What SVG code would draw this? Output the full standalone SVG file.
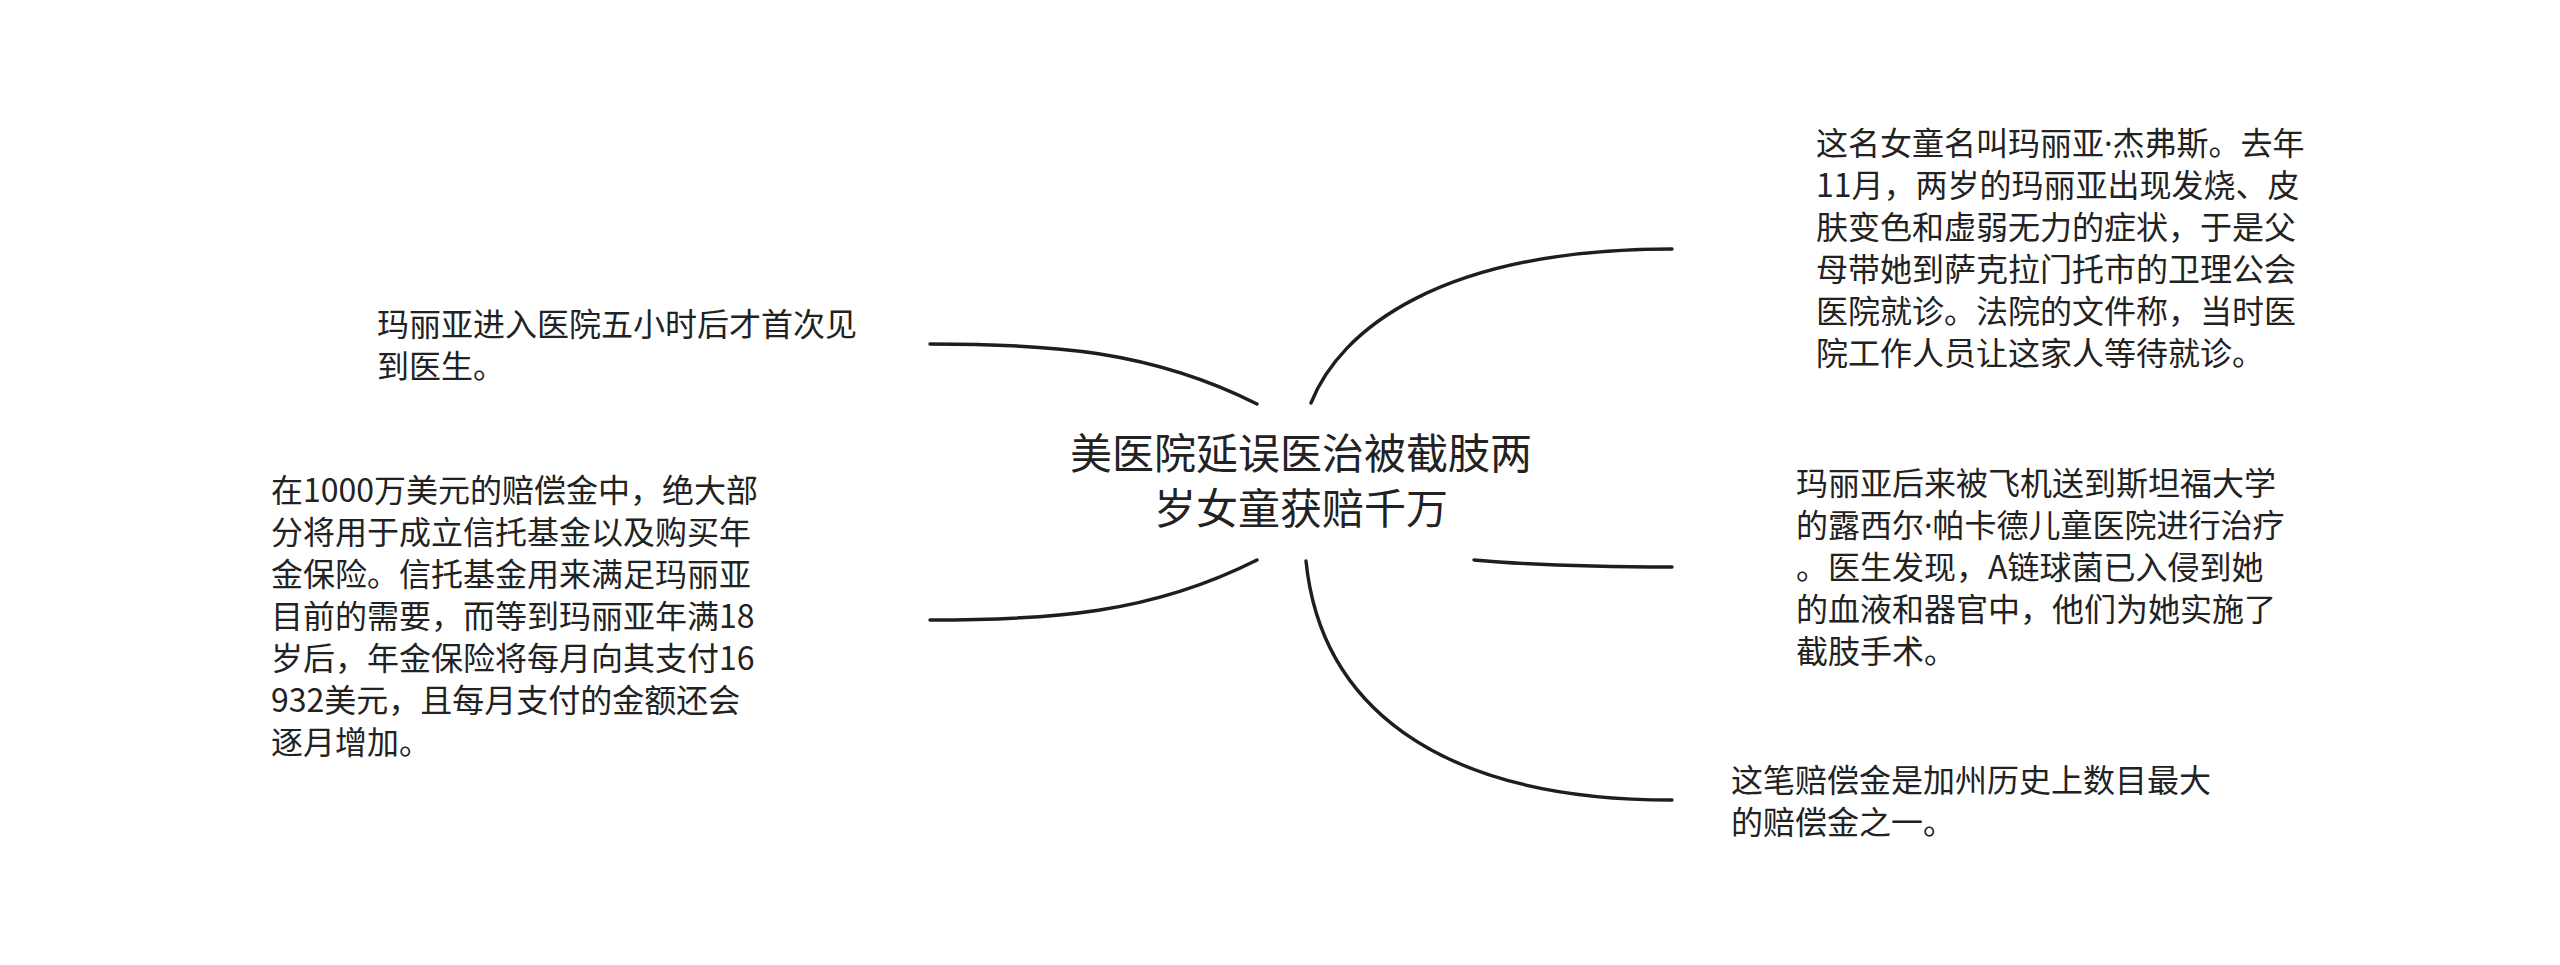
<svg xmlns="http://www.w3.org/2000/svg" width="2560" height="965" viewBox="0 0 2560 965">
<style>
.bg{fill:#ffffff}
.edge{fill:none;stroke:#1e1e1e;stroke-width:3.4;stroke-linecap:round}
.t{font-family:"Noto Sans CJK SC","Noto Sans",sans-serif;fill:#222222}
.root{font-size:42px;text-anchor:middle}
.leaf{font-size:32px}
.dot{font-family:"Noto Sans","Liberation Sans",sans-serif}
</style>
<rect class="bg" x="0" y="0" width="2560" height="965"/>
<g id="connectors">
<path class="edge" d="M 1257 404 C 1150 350, 1050 344, 930 344"/>
<path class="edge" d="M 1257 560 C 1150 614, 1050 620, 930 620"/>
<path class="edge" d="M 1311 403 C 1340 330, 1440 249, 1672 249"/>
<path class="edge" d="M 1306 561 C 1320 700, 1430 800, 1672 800"/>
<path class="edge" d="M 1474 560 C 1540 566, 1600 567, 1672 567"/>
</g>
<g id="root">
<text class="t root"><tspan x="1301" y="469">美医院延误医治被截肢两</tspan><tspan x="1301" y="524">岁女童获赔千万</tspan></text>
</g>
<g id="node-top-right">
<text class="t leaf"><tspan x="1816" y="155">这名女童名叫玛丽亚<tspan class="dot">·</tspan>杰弗斯。去年</tspan><tspan x="1816" y="197">11月，两岁的玛丽亚出现发烧、皮</tspan><tspan x="1816" y="239">肤变色和虚弱无力的症状，于是父</tspan><tspan x="1816" y="281">母带她到萨克拉门托市的卫理公会</tspan><tspan x="1816" y="323">医院就诊。法院的文件称，当时医</tspan><tspan x="1816" y="365">院工作人员让这家人等待就诊。</tspan></text>
</g>
<g id="node-right-middle">
<text class="t leaf"><tspan x="1796" y="495">玛丽亚后来被飞机送到斯坦福大学</tspan><tspan x="1796" y="537">的露西尔<tspan class="dot">·</tspan>帕卡德儿童医院进行治疗</tspan><tspan x="1796" y="579">。医生发现，A链球菌已入侵到她</tspan><tspan x="1796" y="621">的血液和器官中，他们为她实施了</tspan><tspan x="1796" y="663">截肢手术。</tspan></text>
</g>
<g id="node-bottom-right">
<text class="t leaf"><tspan x="1731" y="792">这笔赔偿金是加州历史上数目最大</tspan><tspan x="1731" y="834">的赔偿金之一。</tspan></text>
</g>
<g id="node-top-left">
<text class="t leaf"><tspan x="377" y="336">玛丽亚进入医院五小时后才首次见</tspan><tspan x="377" y="378">到医生。</tspan></text>
</g>
<g id="node-left">
<text class="t leaf"><tspan x="271" y="502">在1000万美元的赔偿金中，绝大部</tspan><tspan x="271" y="544">分将用于成立信托基金以及购买年</tspan><tspan x="271" y="586">金保险。信托基金用来满足玛丽亚</tspan><tspan x="271" y="628">目前的需要，而等到玛丽亚年满18</tspan><tspan x="271" y="670">岁后，年金保险将每月向其支付16</tspan><tspan x="271" y="712">932美元，且每月支付的金额还会</tspan><tspan x="271" y="754">逐月增加。</tspan></text>
</g>
</svg>
